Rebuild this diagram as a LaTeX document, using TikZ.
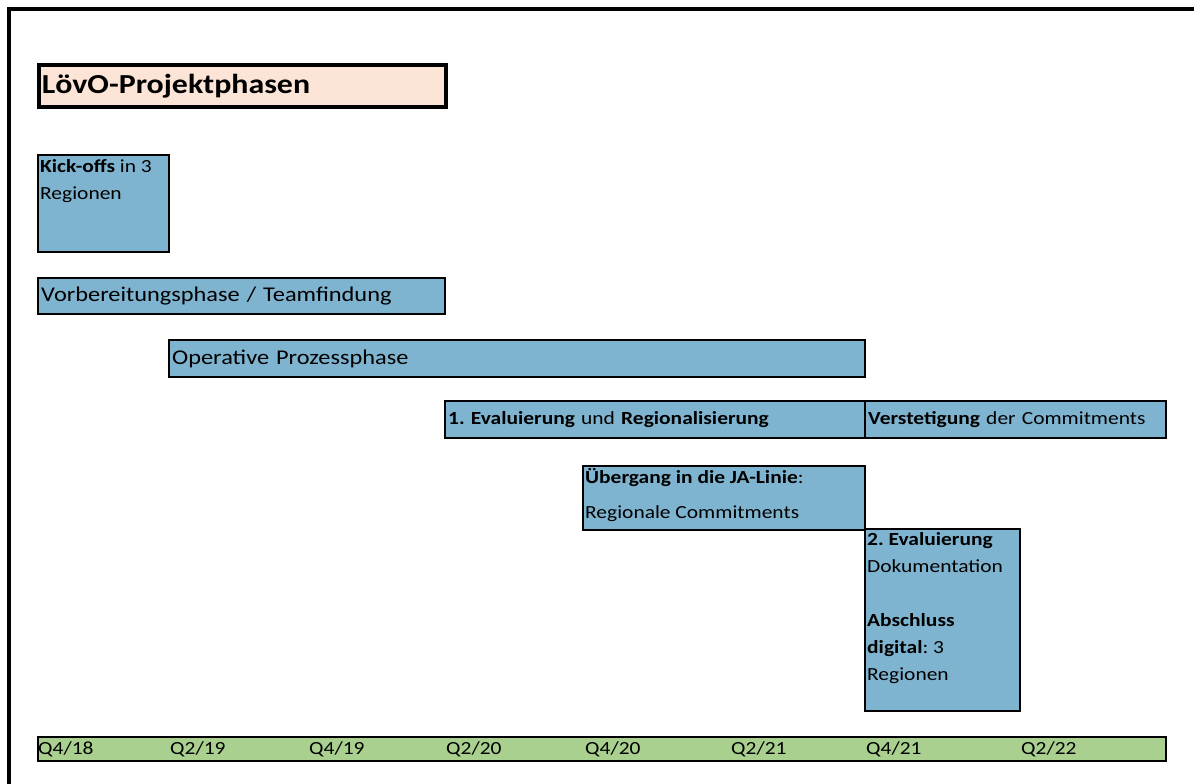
\documentclass[tikz,border=0pt]{standalone}
\usepackage{fontspec}
\setmainfont[FakeStretch=1.16]{Carlito}
\frenchspacing
\definecolor{phaseblue}{RGB}{127,180,208}
\definecolor{titlepeach}{RGB}{252,228,214}
\definecolor{timegreen}{RGB}{169,208,142}
\newcommand{\titlesz}{\fontsize{27.5}{32}\selectfont\bfseries}
\newcommand{\largesz}{\fontsize{21}{25}\selectfont}
\newcommand{\normsz}{\fontsize{18.5}{27}\selectfont}
\tikzset{
  phase/.style={draw=black,line width=2.4pt,fill=phaseblue,anchor=north west,
    inner xsep=3pt,inner ysep=0pt,align=left},
  boxtext/.style={anchor=north west,inner sep=0pt,align=left,font=\normsz},
}
\begin{document}
\begin{tikzpicture}[x=1pt,y=-1pt]
    \useasboundingbox (0,0) rectangle (1194,784);
    \draw[line width=4pt] (9,800) -- (9,9) -- (1200,9);
    % title
    \node[phase,fill=titlepeach,line width=3.6pt,minimum width=407pt,minimum height=42pt,
        text width=401pt,font=\titlesz] (title) at (37,63) {LövO-Projektphasen};
    % phases
    \node[phase,minimum width=131pt,minimum height=97pt] (kick) at (37,154) {};
    \node[boxtext] (kicktxt) at ([shift={(3,5)}]kick.north west)
        {\textbf{Kick-offs} in 3\\Regionen};
    \node[phase,minimum width=407pt,minimum height=36pt,text width=401pt,font=\largesz]
        (prep) at (37,277) {Vorbereitungsphase / Teamfindung};
    \node[phase,minimum width=696pt,minimum height=37pt,text width=690pt,font=\largesz]
        (oper) at (168,339) {Operative Prozessphase};
    \node[phase,minimum width=420pt,minimum height=37pt,text width=414pt,font=\normsz]
        (evalA) at (444,400) {\textbf{1. Evaluierung} und \textbf{Regionalisierung}};
    \node[phase,minimum width=301pt,minimum height=37pt,text width=295pt,font=\normsz]
        (steady) at (864,400) {\textbf{Verstetigung} der Commitments};
    \node[phase,minimum width=282pt,minimum height=64pt] (handover) at (582,465) {};
    \node[boxtext] (handtxt) at ([shift={(3,3)}]handover.north west)
        {\textbf{Übergang in die JA-Linie}:\\[8pt]Regionale Commitments};
    \node[phase,minimum width=155pt,minimum height=182pt] (evalB) at (864,528) {};
    \node[boxtext] (evalBtxt) at ([shift={(3,4)}]evalB.north west)
        {\textbf{2. Evaluierung}\\Dokumentation\\[27pt]\textbf{Abschluss}\\
         \textbf{digital}: 3\\Regionen};
    % timeline
    \node[phase,fill=timegreen,minimum width=1128pt,minimum height=24pt] (timeline) at (37,736) {};
    \foreach \qx/\qlab [count=\qi] in {38/{Q4/18},170/{Q2/19},309/{Q4/19},446/{Q2/20},
        585/{Q4/20},731/{Q2/21},866/{Q4/21},1021/{Q2/22}}
        \node[anchor=west,inner sep=0pt,font=\normsz] (q\qi) at (\qx,749) {\qlab};
\end{tikzpicture}
\end{document}
